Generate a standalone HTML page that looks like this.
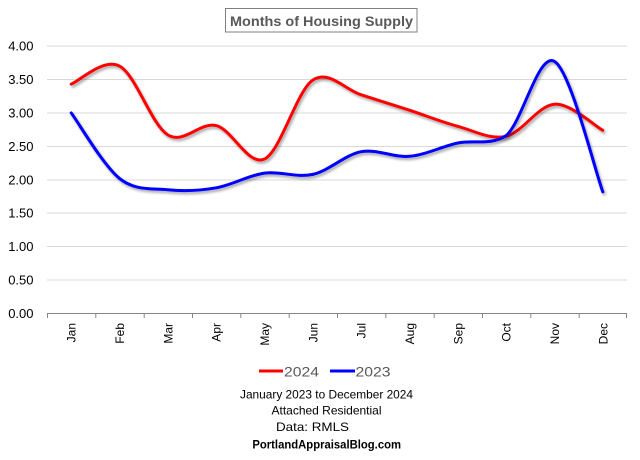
<!DOCTYPE html>
<html>
<head>
<meta charset="utf-8">
<style>
  html, body { margin: 0; padding: 0; background: #ffffff; }
  svg { display: block; }
  text { font-family: "Liberation Sans", "DejaVu Sans", sans-serif; }
</style>
</head>
<body>
<svg width="640" height="460" viewBox="0 0 640 460" xmlns="http://www.w3.org/2000/svg">
  <defs>
    <filter id="sh" x="-10%" y="-20%" width="120%" height="140%">
      <feDropShadow dx="1.5" dy="2.2" stdDeviation="1.4" flood-color="#000000" flood-opacity="0.35"/>
    </filter>
  </defs>
  <rect x="0" y="0" width="640" height="460" fill="#ffffff"/>

  <!-- Title -->
  <rect x="225.5" y="8.5" width="191.5" height="23.5" fill="#ffffff" stroke="#808080" stroke-width="1"/>
  <text x="321.5" y="26" text-anchor="middle" font-size="14" font-weight="bold" fill="#595959" textLength="183" lengthAdjust="spacingAndGlyphs">Months of Housing Supply</text>

  <!-- Gridlines -->
  <g stroke="#d9d9d9" stroke-width="1">
    <line x1="47" y1="46" x2="627" y2="46"/>
    <line x1="47" y1="79.5" x2="627" y2="79.5"/>
    <line x1="47" y1="113" x2="627" y2="113"/>
    <line x1="47" y1="146.5" x2="627" y2="146.5"/>
    <line x1="47" y1="180" x2="627" y2="180"/>
    <line x1="47" y1="213" x2="627" y2="213"/>
    <line x1="47" y1="246.5" x2="627" y2="246.5"/>
    <line x1="47" y1="280" x2="627" y2="280"/>
  </g>

  <!-- X axis -->
  <g stroke="#868686" stroke-width="1">
    <line x1="47" y1="313.5" x2="627" y2="313.5"/>
    <line x1="47.5" y1="313.5" x2="47.5" y2="318"/>
    <line x1="95.8" y1="313.5" x2="95.8" y2="318"/>
    <line x1="144.2" y1="313.5" x2="144.2" y2="318"/>
    <line x1="192.5" y1="313.5" x2="192.5" y2="318"/>
    <line x1="240.8" y1="313.5" x2="240.8" y2="318"/>
    <line x1="289.2" y1="313.5" x2="289.2" y2="318"/>
    <line x1="337.5" y1="313.5" x2="337.5" y2="318"/>
    <line x1="385.8" y1="313.5" x2="385.8" y2="318"/>
    <line x1="434.2" y1="313.5" x2="434.2" y2="318"/>
    <line x1="482.5" y1="313.5" x2="482.5" y2="318"/>
    <line x1="530.8" y1="313.5" x2="530.8" y2="318"/>
    <line x1="579.2" y1="313.5" x2="579.2" y2="318"/>
    <line x1="626.5" y1="313.5" x2="626.5" y2="318"/>
  </g>

  <!-- Y labels -->
  <g font-size="13" fill="#000000" text-anchor="end">
    <text x="33.5" y="50.5">4.00</text>
    <text x="33.5" y="84">3.50</text>
    <text x="33.5" y="117.5">3.00</text>
    <text x="33.5" y="151">2.50</text>
    <text x="33.5" y="184.5">2.00</text>
    <text x="33.5" y="217.5">1.50</text>
    <text x="33.5" y="251">1.00</text>
    <text x="33.5" y="284.5">0.50</text>
    <text x="33.5" y="318">0.00</text>
  </g>

  <!-- X labels -->
  <g font-size="12" fill="#000000" text-anchor="end">
    <text transform="translate(75.7,323) rotate(-90)">Jan</text>
    <text transform="translate(124,323) rotate(-90)">Feb</text>
    <text transform="translate(172.3,323) rotate(-90)">Mar</text>
    <text transform="translate(220.7,323) rotate(-90)">Apr</text>
    <text transform="translate(269,323) rotate(-90)">May</text>
    <text transform="translate(317.3,323) rotate(-90)">Jun</text>
    <text transform="translate(365.7,323) rotate(-90)">Jul</text>
    <text transform="translate(414,323) rotate(-90)">Aug</text>
    <text transform="translate(462.3,323) rotate(-90)">Sep</text>
    <text transform="translate(510.7,323) rotate(-90)">Oct</text>
    <text transform="translate(559,323) rotate(-90)">Nov</text>
    <text transform="translate(607.3,323) rotate(-90)">Dec</text>
  </g>

  <!-- 2024 series (red) -->
  <path filter="url(#sh)" fill="none" stroke="#ff0000" stroke-width="3" stroke-linecap="round" stroke-linejoin="round"
    d="M71.2,84.1 C79.3,81.1 103.4,57.6 119.5,66.1
       C135.6,74.6 151.7,125.0 167.8,134.9
       C183.9,144.8 200.1,121.6 216.2,125.6
       C232.3,129.6 248.4,166.6 264.5,159.0
       C280.6,151.4 296.7,90.8 312.8,80.1
       C328.9,69.4 345.1,89.8 361.2,94.8
       C377.3,99.8 393.4,105.0 409.5,110.2
       C425.6,115.5 441.7,122.0 457.8,126.3
       C473.9,130.7 490.1,140.0 506.2,136.3
       C522.3,132.6 538.4,105.2 554.5,104.2
       C570.6,103.2 594.7,126.0 602.8,130.3"/>

  <!-- 2023 series (blue) -->
  <path filter="url(#sh)" fill="none" stroke="#0000ff" stroke-width="3" stroke-linecap="round" stroke-linejoin="round"
    d="M71.2,112.9 C79.3,123.8 103.4,165.6 119.5,178.4
       C135.6,191.2 151.7,188.2 167.8,189.8
       C183.9,191.4 200.1,190.6 216.2,187.8
       C232.3,185.0 248.4,175.3 264.5,173.1
       C280.6,170.9 296.7,178.0 312.8,174.4
       C328.9,170.8 345.1,154.7 361.2,151.7
       C377.3,148.7 393.4,157.8 409.5,156.3
       C425.6,154.9 441.7,146.5 457.8,143.0
       C473.9,139.6 490.1,146.0 506.2,135.6
       C522.3,122.0 538.4,52.0 554.5,61.4
       C570.6,70.8 594.7,170.1 602.8,191.8"/>

  <!-- Legend -->
  <line x1="259" y1="371" x2="283" y2="371" stroke="#ff0000" stroke-width="3"/>
  <text x="284" y="376.5" font-size="14" fill="#595959" textLength="35" lengthAdjust="spacingAndGlyphs">2024</text>
  <line x1="330" y1="371" x2="355" y2="371" stroke="#0000ff" stroke-width="3"/>
  <text x="355.5" y="376.5" font-size="14" fill="#595959" textLength="35" lengthAdjust="spacingAndGlyphs">2023</text>

  <!-- Footer text -->
  <g text-anchor="middle" fill="#000000" font-size="12">
    <text x="326.5" y="398.5" textLength="173" lengthAdjust="spacingAndGlyphs">January 2023 to December 2024</text>
    <text x="326.5" y="414.5" textLength="110" lengthAdjust="spacingAndGlyphs">Attached Residential</text>
    <text x="312.5" y="431" textLength="73" lengthAdjust="spacingAndGlyphs">Data: RMLS</text>
    <text x="326.7" y="448.5" font-weight="bold" textLength="148.7" lengthAdjust="spacingAndGlyphs">PortlandAppraisalBlog.com</text>
  </g>
</svg>
</body>
</html>
